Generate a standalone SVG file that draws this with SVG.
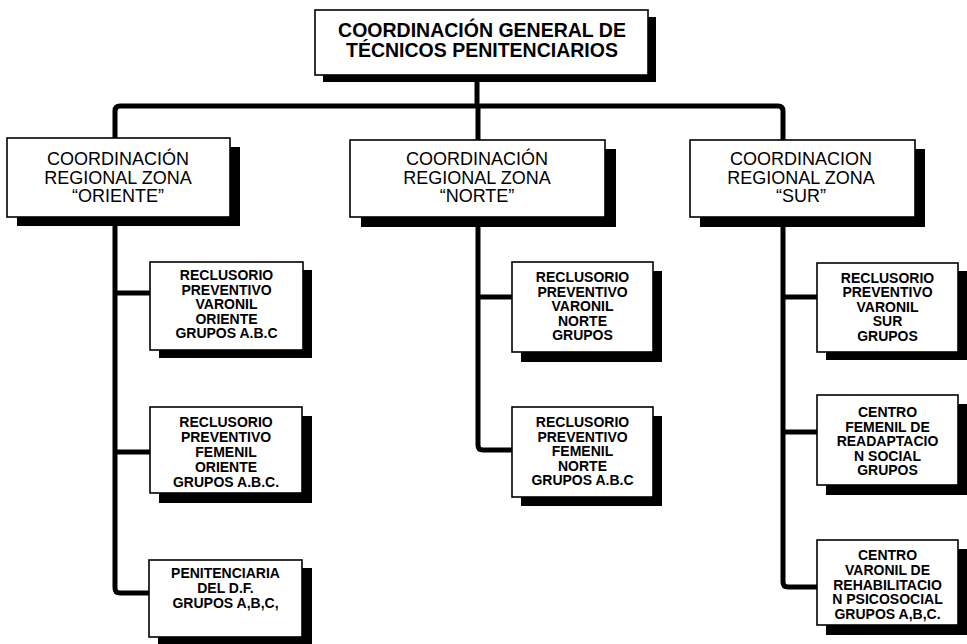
<svg xmlns="http://www.w3.org/2000/svg" width="967" height="644" viewBox="0 0 967 644">
<style>
.box{fill:#fff;stroke:#000;stroke-width:1.6}
.sh{fill:#000}
.conn{fill:none;stroke:#000;stroke-width:5;stroke-linejoin:round;stroke-linecap:butt}
.h{font-family:"Liberation Sans",Arial,sans-serif;font-weight:bold;font-size:19.5px;text-anchor:middle;fill:#000}
.r{font-family:"Liberation Sans",Arial,sans-serif;font-size:18px;text-anchor:middle;fill:#000}
.c{font-family:"Liberation Sans",Arial,sans-serif;font-weight:bold;font-size:14px;text-anchor:middle;fill:#000}
</style>
<rect width="967" height="644" fill="#fff"/>
<g id="connectors">
<path class="conn" d="M477,75 V106"/>
<path class="conn" d="M115,138 V111 Q115,106 120,106 H778 Q783,106 783,111 V140"/>
<path class="conn" d="M478,106 V140"/>
<path class="conn" d="M115,217 V588 Q115,593 120,593 H149"/>
<path class="conn" d="M115,293 H150"/>
<path class="conn" d="M115,452 H150"/>
<path class="conn" d="M478,217 V445 Q478,450 483,450 H512"/>
<path class="conn" d="M478,297 H512"/>
<path class="conn" d="M783,217 V582 Q783,587 788,587 H817"/>
<path class="conn" d="M783,297 H817"/>
<path class="conn" d="M783,432 H817"/>
</g>
<g id="n-general">
<rect class="sh" x="323" y="17" width="333" height="65"/>
<rect class="box" x="315" y="10" width="333" height="65" stroke-width="2"/>
<text class="h" x="482" y="36.5">COORDINACIÓN GENERAL DE</text>
<text class="h" x="482" y="57">TÉCNICOS PENITENCIARIOS</text>
</g>
<g id="n-oriente">
<rect class="sh" x="17" y="147" width="223" height="79"/>
<rect class="box" x="7" y="138" width="223" height="79"/>
<text class="r" x="118" y="164.5">COORDINACIÓN</text>
<text class="r" x="118" y="183.5">REGIONAL ZONA</text>
<text class="r" x="118" y="202">“ORIENTE”</text>
</g>
<g id="n-norte">
<rect class="sh" x="361" y="149" width="255" height="78"/>
<rect class="box" x="350" y="140" width="255" height="77"/>
<text class="r" x="477" y="164.5">COORDINACIÓN</text>
<text class="r" x="477" y="183.5">REGIONAL ZONA</text>
<text class="r" x="477" y="202">“NORTE”</text>
</g>
<g id="n-sur">
<rect class="sh" x="700" y="149" width="225" height="78"/>
<rect class="box" x="690" y="140" width="225" height="77"/>
<text class="r" x="801" y="164.5">COORDINACION</text>
<text class="r" x="801" y="183.5">REGIONAL ZONA</text>
<text class="r" x="801" y="202">“SUR”</text>
</g>
<g id="n-rpv-oriente">
<rect class="sh" x="159" y="270" width="153" height="88"/>
<rect class="box" x="150" y="262" width="153" height="88"/>
<text class="c" x="226.5" y="280">RECLUSORIO</text>
<text class="c" x="226.5" y="294.5">PREVENTIVO</text>
<text class="c" x="226.5" y="309">VARONIL</text>
<text class="c" x="226.5" y="323.5">ORIENTE</text>
<text class="c" x="226.5" y="338">GRUPOS A.B.C</text>
</g>
<g id="n-rpf-oriente">
<rect class="sh" x="159" y="416" width="153" height="87"/>
<rect class="box" x="150" y="407" width="152" height="86"/>
<text class="c" x="226" y="427">RECLUSORIO</text>
<text class="c" x="226" y="442">PREVENTIVO</text>
<text class="c" x="226" y="457">FEMENIL</text>
<text class="c" x="226" y="472">ORIENTE</text>
<text class="c" x="226" y="487">GRUPOS A.B.C.</text>
</g>
<g id="n-penitenciaria">
<rect class="sh" x="158" y="568" width="154" height="78"/>
<rect class="box" x="149" y="560" width="153" height="77"/>
<text class="c" x="225.5" y="578">PENITENCIARIA</text>
<text class="c" x="225.5" y="593">DEL D.F.</text>
<text class="c" x="225.5" y="608">GRUPOS A,B,C,</text>
</g>
<g id="n-rpv-norte">
<rect class="sh" x="521" y="271" width="141" height="91"/>
<rect class="box" x="512" y="262" width="141" height="90"/>
<text class="c" x="582.5" y="282">RECLUSORIO</text>
<text class="c" x="582.5" y="296.5">PREVENTIVO</text>
<text class="c" x="582.5" y="311">VARONIL</text>
<text class="c" x="582.5" y="325.5">NORTE</text>
<text class="c" x="582.5" y="340">GRUPOS</text>
</g>
<g id="n-rpf-norte">
<rect class="sh" x="521" y="416" width="141" height="90"/>
<rect class="box" x="512" y="407" width="141" height="90"/>
<text class="c" x="582.5" y="427">RECLUSORIO</text>
<text class="c" x="582.5" y="441.5">PREVENTIVO</text>
<text class="c" x="582.5" y="456">FEMENIL</text>
<text class="c" x="582.5" y="470.5">NORTE</text>
<text class="c" x="582.5" y="485">GRUPOS A.B.C</text>
</g>
<g id="n-rpv-sur">
<rect class="sh" x="826" y="271" width="141" height="89"/>
<rect class="box" x="817" y="263" width="141" height="89"/>
<text class="c" x="887.5" y="282.5">RECLUSORIO</text>
<text class="c" x="887.5" y="297">PREVENTIVO</text>
<text class="c" x="887.5" y="311.5">VARONIL</text>
<text class="c" x="887.5" y="326">SUR</text>
<text class="c" x="887.5" y="340.5">GRUPOS</text>
</g>
<g id="n-cefere-sur">
<rect class="sh" x="826" y="404" width="141" height="91"/>
<rect class="box" x="817" y="395" width="141" height="90"/>
<text class="c" x="887.5" y="417">CENTRO</text>
<text class="c" x="887.5" y="431.5">FEMENIL  DE</text>
<text class="c" x="887.5" y="446">READAPTACIO</text>
<text class="c" x="887.5" y="460.5">N  SOCIAL</text>
<text class="c" x="887.5" y="475">GRUPOS</text>
</g>
<g id="n-cevarepsi-sur">
<rect class="sh" x="826" y="549" width="141" height="86"/>
<rect class="box" x="817" y="540" width="141" height="85"/>
<text class="c" x="887.5" y="560">CENTRO</text>
<text class="c" x="887.5" y="575">VARONIL DE</text>
<text class="c" x="887.5" y="589.5">REHABILITACIO</text>
<text class="c" x="887.5" y="604">N PSICOSOCIAL</text>
<text class="c" x="887.5" y="618.5">GRUPOS A,B,C.</text>
</g>
</svg>
